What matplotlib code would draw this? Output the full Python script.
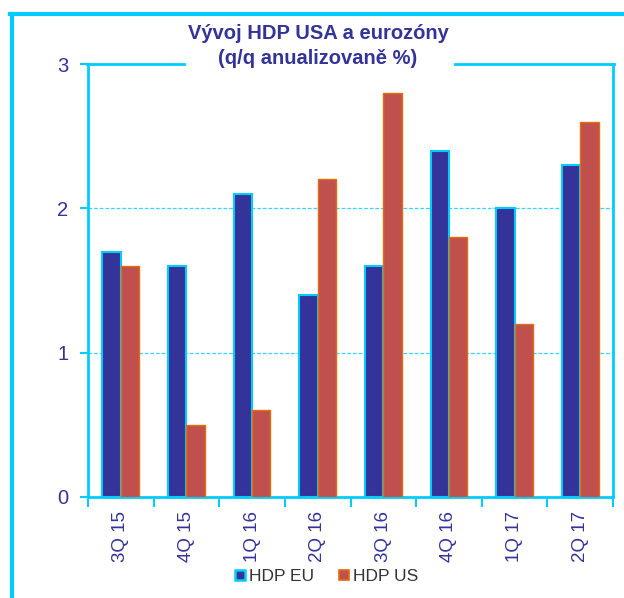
import matplotlib.pyplot as plt
import numpy as np
from matplotlib.lines import Line2D

# Data
quarters = ["3Q 15", "4Q 15", "1Q 16", "2Q 16", "3Q 16", "4Q 16", "1Q 17", "2Q 17"]
hdp_eu = [1.7, 1.6, 2.1, 1.4, 1.6, 2.4, 2.0, 2.3]
hdp_us = [1.6, 0.5, 0.6, 2.2, 2.8, 1.8, 1.2, 2.6]

navy = "#333399"
red = "#C0504D"
cyan = "#00CCFF"
orange = "#E46C0A"

plt.rcParams["font.family"] = ["Liberation Sans", "DejaVu Sans"]

fig = plt.figure(figsize=(6.24, 5.98), dpi=100)
ax = fig.add_axes([88 / 624, 101 / 598, 525 / 624, 433 / 598])

x = np.arange(len(quarters))
width = 0.28
ax.bar(x - width / 2, hdp_eu, width=width, color=navy, edgecolor=cyan,
       linewidth=1.5, zorder=3, label="HDP EU")
ax.bar(x + width / 2, hdp_us, width=width, color=red, edgecolor=orange,
       linewidth=1.0, zorder=3, label="HDP US")

ax.set_xlim(-0.5, len(quarters) - 0.5)
ax.set_ylim(0, 3)
ax.set_yticks([0, 1, 2, 3])
ax.set_yticklabels(["0", "1", "2", "3"])

# grid
for yv in [1, 2]:
    ax.axhline(yv, color=cyan, linestyle=(0, (3, 1.5)), linewidth=0.9,
               alpha=0.8, zorder=1)

for sp in ax.spines.values():
    sp.set_color(cyan)
    sp.set_linewidth(2)
ax.spines["top"].set_visible(False)

# top frame line, broken where the title sits
top_y = 1 - 64 / 598
for x0, x1 in [(87 / 624, 184 / 624), (455 / 624, 614 / 624)]:
    fig.add_artist(Line2D([x0, x1], [top_y, top_y], color=cyan, linewidth=2,
                          transform=fig.transFigure))

ax.set_xticks(x)
ax.set_xticklabels(quarters, rotation=90)
ax.set_xticks(np.arange(len(quarters) + 1) - 0.5, minor=True)
ax.tick_params(axis="x", which="major", length=0, pad=10, labelsize=13.5,
               labelcolor=navy)
ax.tick_params(axis="x", which="minor", length=7, width=1.5, color=cyan)
ax.tick_params(axis="y", length=6, width=1.5, color=cyan, pad=8,
               labelsize=14.5, labelcolor=navy)

# title
fig.text(318 / 624, 1 - 46 / 598, "Vývoj HDP USA a eurozóny\n(q/q anualizovaně %)",
         ha="center", va="center", fontsize=14.5, fontweight="bold", color=navy,
         linespacing=1.45)

# outer border
fig.add_artist(Line2D([11.5 / 624, 11.5 / 624], [0, 1 - 13.5 / 598],
                      color=cyan, linewidth=3, transform=fig.transFigure))
fig.add_artist(Line2D([10 / 624, 1], [1 - 13.5 / 598, 1 - 13.5 / 598],
                      color=cyan, linewidth=3, transform=fig.transFigure))

handles = [
    Line2D([], [], linestyle="none", marker="s", markersize=7,
           markerfacecolor=navy, markeredgecolor=cyan, markeredgewidth=1.8,
           label="HDP EU"),
    Line2D([], [], linestyle="none", marker="s", markersize=7,
           markerfacecolor=red, markeredgecolor=orange, markeredgewidth=1.2,
           label="HDP US"),
]
fig.legend(handles=handles, loc="center", bbox_to_anchor=(326 / 624, 22 / 598),
           ncol=2, frameon=False, fontsize=12.5, handlelength=0.7,
           handletextpad=0.15, columnspacing=1.4, labelcolor="#333333")

fig.savefig("out.png", dpi=100)
